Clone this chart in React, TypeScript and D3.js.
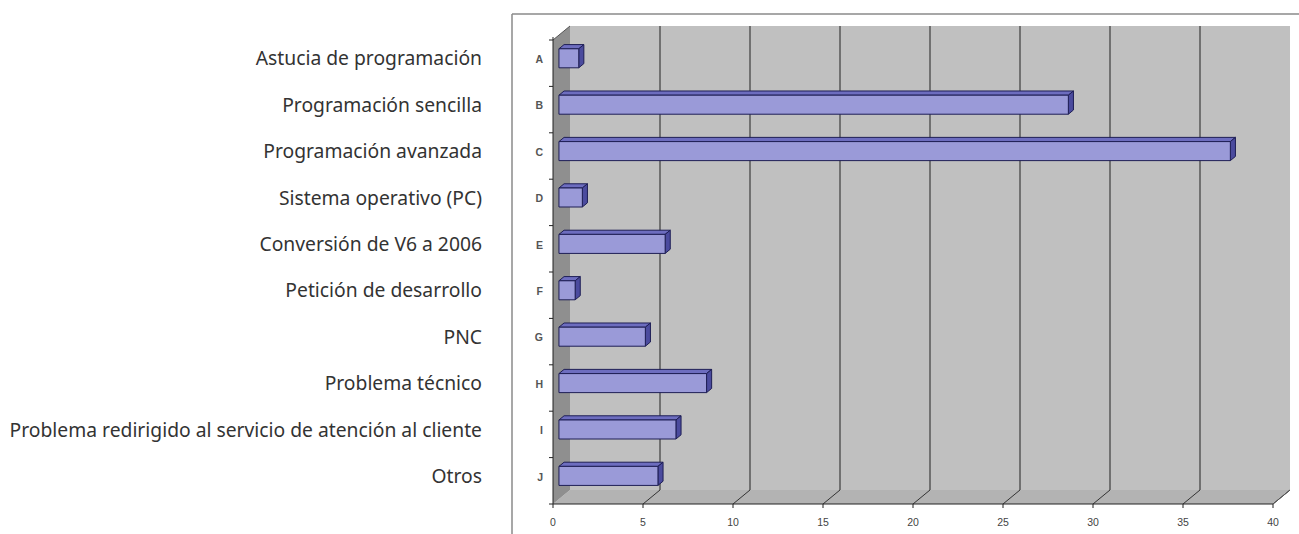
import * as d3 from 'd3'

const letters = ['A', 'B', 'C', 'D', 'E', 'F', 'G', 'H', 'I', 'J']
const categories = [
  'Astucia de programación',
  'Programación sencilla',
  'Programación avanzada',
  'Sistema operativo (PC)',
  'Conversión de V6 a 2006',
  'Petición de desarrollo',
  'PNC',
  'Problema técnico',
  'Problema redirigido al servicio de atención al cliente',
  'Otros',
]
const values = [1.1, 28.3, 37.3, 1.3, 5.9, 0.9, 4.8, 8.2, 6.5, 5.5]
const xTicks = [0, 5, 10, 15, 20, 25, 30, 35, 40]

export default function App() {
  const W = 1299
  const H = 534
  // front plane
  const left = 553
  const right = 1273
  const top = 40
  const bottom = 504
  // depth offset of back wall
  const DX = 17
  const DY = 14

  const x = d3.scaleLinear().domain([0, 40]).range([left, right])
  const band = d3.scaleBand<string>().domain(letters).range([top, bottom])
  const barBand = d3.scaleBand<string>().domain(letters).range([top, bottom]).paddingInner(0.59).paddingOuter(0.295)

  // bar depth: front face at f0, back face at f1 of total depth
  const f0 = 0.35
  const f1 = 0.65
  const bdx0 = DX * f0, bdy0 = DY * f0
  const bdx1 = DX * f1, bdy1 = DY * f1

  const pts = (p: [number, number][]) => p.map(d => d.join(',')).join(' ')
  const textColor = '#333'
  const edge = '#1e1e55'

  return (
    <svg width={W} height={H} style={{ position: 'absolute', left: 0, top: 0, background: '#fff' }}>
      {/* outer frame */}
      <line x1={512} y1={14} x2={W} y2={14} stroke="#8a8a8a" strokeWidth={1.5} />
      <line x1={512} y1={14} x2={512} y2={H} stroke="#8a8a8a" strokeWidth={1.5} />

      {/* back wall */}
      <rect x={left + DX} y={top - DY} width={right - left} height={bottom - top} fill="#c0c0c0" />
      {/* floor */}
      <polygon
        points={pts([[left, bottom], [left + DX, bottom - DY], [right + DX, bottom - DY], [right, bottom]])}
        fill="#b3b3b3"
      />
      {/* left side wall */}
      <polygon
        points={pts([[left, top], [left + DX, top - DY], [left + DX, bottom - DY], [left, bottom]])}
        fill="#8f8f8f"
      />
      <line x1={left} y1={top} x2={left + DX} y2={top - DY} stroke="#555" strokeWidth={1} />

      {/* gridlines on back wall and floor diagonals */}
      {xTicks.map(t => (
        <g key={'g' + t}>
          {t > 0 && t < 40 && (
            <line x1={x(t) + DX} y1={top - DY} x2={x(t) + DX} y2={bottom - DY} stroke="#222" strokeWidth={1} />
          )}
          {t > 0 && <line x1={x(t)} y1={bottom} x2={x(t) + DX} y2={bottom - DY} stroke="#333" strokeWidth={1} />}
        </g>
      ))}

      {/* bars */}
      {values.map((v, i) => {
        const k = letters[i]
        const y0 = barBand(k)! - bdy0
        const h = barBand.bandwidth()
        const xa = x(0) + bdx0
        const xb = x(v) + bdx0
        const ddx = bdx1 - bdx0
        const ddy = bdy1 - bdy0
        return (
          <g key={k} stroke={edge} strokeWidth={1} strokeLinejoin="round">
            <polygon points={pts([[xa, y0], [xa + ddx, y0 - ddy], [xb + ddx, y0 - ddy], [xb, y0]])} fill="#6d6dbf" />
            <polygon points={pts([[xb, y0], [xb + ddx, y0 - ddy], [xb + ddx, y0 + h - ddy], [xb, y0 + h]])} fill="#4b4b9e" />
            <rect x={xa} y={y0} width={xb - xa} height={h} fill="#9a9ad8" />
          </g>
        )
      })}

      {/* axes */}
      <line x1={left} y1={top - 3} x2={left} y2={bottom} stroke="#222" strokeWidth={1} />
      <line x1={left} y1={bottom} x2={right} y2={bottom} stroke="#222" strokeWidth={1} />
      <line x1={right} y1={bottom} x2={right + DX} y2={bottom - DY} stroke="#555" strokeWidth={1} />

      {/* y ticks */}
      {letters.concat(['_end']).map((k, i) => {
        const yy = i < letters.length ? band(k)! : bottom
        return <line key={'yt' + k} x1={left - 4} y1={yy} x2={left} y2={yy} stroke="#222" />
      })}
      {letters.map(k => (
        <text
          key={'yl' + k}
          x={543}
          y={band(k)! + band.bandwidth() / 2 - 3}
          textAnchor="end"
          dominantBaseline="middle"
          fontFamily="Arial, 'Liberation Sans', sans-serif"
          fontSize={10.5}
          fontWeight="bold"
          fill="#555"
        >
          {k}
        </text>
      ))}

      {/* x ticks */}
      {xTicks.map(t => (
        <g key={'xt' + t}>
          <line x1={x(t)} y1={bottom} x2={x(t)} y2={bottom + 4} stroke="#222" />
          <text
            x={x(t)}
            y={523}
            textAnchor="middle"
            dominantBaseline="middle"
            fontFamily="Arial, 'Liberation Sans', sans-serif"
            fontSize={10.5}
            fill="#444"
          >
            {t}
          </text>
        </g>
      ))}

      {/* category names */}
      {categories.map((c, i) => (
        <text
          key={c}
          x={482}
          y={band(letters[i])! + band.bandwidth() / 2 - 3}
          textAnchor="end"
          dominantBaseline="middle"
          fontFamily="'Noto Sans', 'Open Sans', sans-serif"
          fontSize={19.3}
          fill={textColor}
        >
          {c}
        </text>
      ))}
    </svg>
  )
}
